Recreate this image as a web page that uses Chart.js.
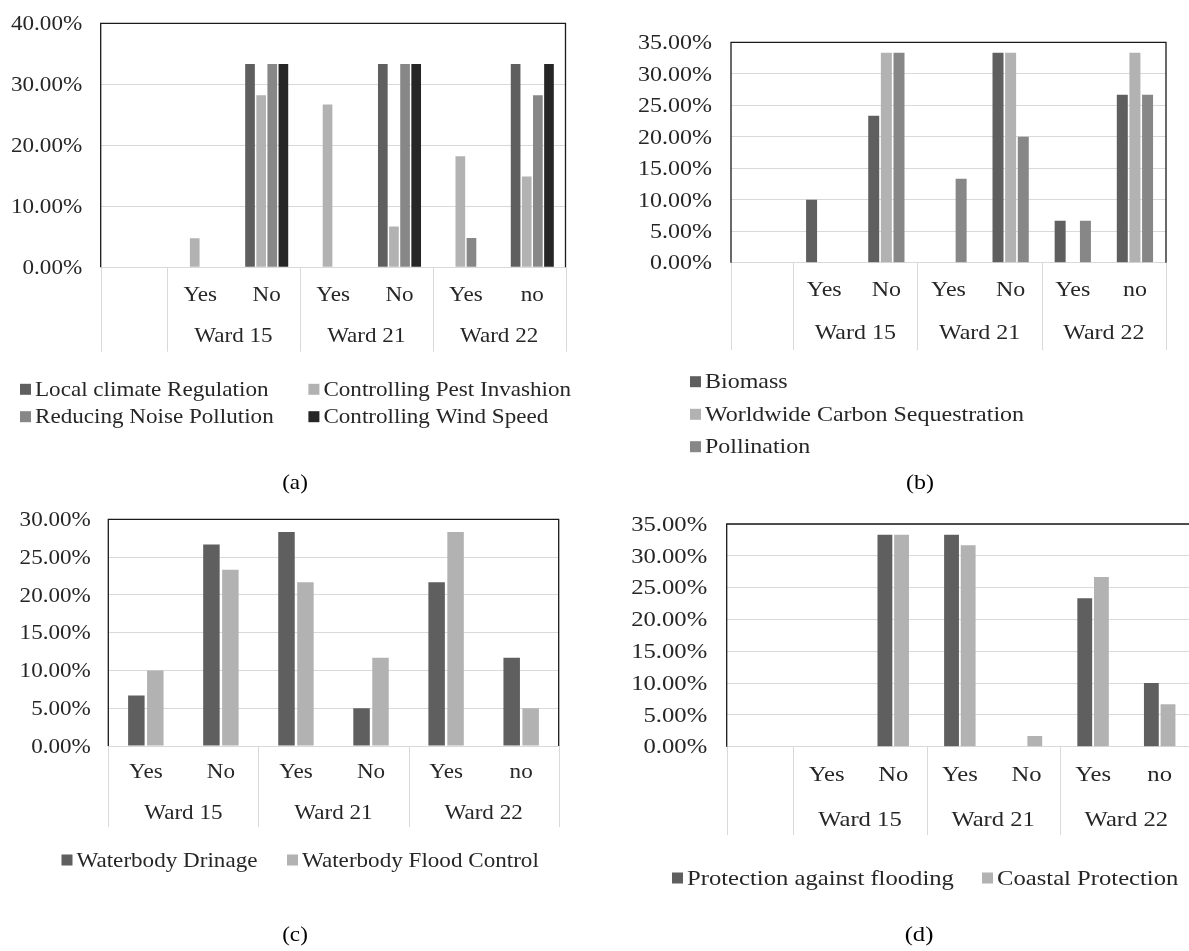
<!DOCTYPE html>
<html>
<head>
<meta charset="utf-8">
<script src="https://cdn.jsdelivr.net/npm/chart.js@4.4.1/dist/chart.umd.min.js"></script>
<style>
  html, body { margin: 0; padding: 0; background: #fff; width: 1189px; height: 951px; overflow: hidden; }
  body { position: relative; }
  canvas { position: absolute; }
</style>
</head>
<body>
<canvas id="panelA"></canvas>
<canvas id="panelB"></canvas>
<canvas id="panelC"></canvas>
<canvas id="panelD"></canvas>
<script>
// ---- data (percent of respondents) ----
const answersWithBlank = ['', 'Yes', 'No', 'Yes', 'No', 'Yes', 'no'];
const answers = ['Yes', 'No', 'Yes', 'No', 'Yes', 'no'];
const wards = ['Ward 15', 'Ward 21', 'Ward 22'];

// (a) regulating services
const climateRegulation = [null, 0, 33.33, 0, 33.33, 0, 33.33];
const pestControl       = [null, 4.76, 28.2, 26.67, 6.67, 18.2, 14.9];
const noiseReduction    = [null, 0, 33.33, 0, 33.33, 4.8, 28.2];
const windControl       = [null, 0, 33.33, 0, 33.33, 0, 33.33];

// (b) supporting services
const biomass      = [null, 10, 23.33, 0, 33.33, 6.67, 26.67];
const carbonSeq    = [null, 0, 33.33, 0, 33.33, 0, 33.33];
const pollination  = [null, 0, 33.33, 13.33, 20, 6.67, 26.67];

// (c) waterbody services
const drainage     = [6.67, 26.67, 28.33, 5, 21.67, 11.67];
const floodControl = [10, 23.33, 21.67, 11.67, 28.33, 5];

// (d) protection services
const floodProtection   = [null, 0, 33.33, 33.33, 0, 23.33, 10];
const coastalProtection = [null, 0, 33.33, 31.67, 1.67, 26.67, 6.67];

// ---- styling ----
const FONT = '"Liberation Serif", "Times New Roman", serif';
const FS = 22;
const TEXT = '#262626';
const DARK = '#5f5f5f', LIGHT = '#b2b2b2', MID = '#878787', BLACK = '#262626';
const GRID = '#d9d9d9';

// text drawn slightly widened (sx) to follow the figure's proportions
function wideText(ctx, str, x, y, align, sx) {
  const w = ctx.measureText(str).width * sx;
  const left = align === 'center' ? x - w / 2 : align === 'right' ? x - w : x;
  ctx.save();
  ctx.translate(left, y);
  ctx.scale(sx, 1);
  ctx.textAlign = 'left';
  ctx.fillText(str, 0, 0);
  ctx.restore();
}

// Value labels, two-level category axis, plot frame, legend and caption
const wardAxis = {
  id: 'wardAxis',
  afterDraw(chart, args, o) {
    const ctx = chart.ctx, a = chart.chartArea, xs = chart.scales.x, ys = chart.scales.y;
    const ox = o.left, oy = o.top, sx = o.sx;
    ctx.save();

    // separators of the category axis
    const lead = o.lead;
    const edges = [-0.5];
    if (lead) edges.push(lead - 0.5);
    for (let g = 0; g < wards.length; g++) edges.push(lead + 2 * g + 1.5);
    ctx.strokeStyle = GRID;
    ctx.lineWidth = 1;
    ctx.beginPath();
    edges.forEach(e => {
      const px = Math.round(xs.getPixelForValue(e)) + 0.5;
      ctx.moveTo(px, a.bottom);
      ctx.lineTo(px, o.sepBottom - oy);
    });
    ctx.stroke();

    // frame: left, top, right
    ctx.strokeStyle = '#1a1a1a';
    ctx.lineWidth = 1.3;
    ctx.beginPath();
    ctx.moveTo(a.left, a.bottom);
    ctx.lineTo(a.left, a.top);
    ctx.lineTo(a.right, a.top);
    ctx.lineTo(a.right, a.bottom);
    ctx.stroke();

    ctx.fillStyle = TEXT;
    ctx.font = FS + 'px ' + FONT;
    ctx.textBaseline = 'middle';

    // value axis labels
    ys.ticks.forEach(t => {
      wideText(ctx, Number(t.value).toFixed(2) + '%', a.left - o.tickGap, ys.getPixelForValue(t.value) + 1, 'right', sx);
    });

    // answer row and ward row
    chart.data.labels.forEach((lab, i) => {
      if (lab) wideText(ctx, lab, xs.getPixelForValue(i), o.catRow - oy, 'center', sx);
    });
    wards.forEach((w, g) => {
      wideText(ctx, w, xs.getPixelForValue(lead + 2 * g + 0.5), o.wardRow - oy, 'center', sx);
    });

    // legend
    chart.data.datasets.forEach((ds, i) => {
      const [tx, ty] = o.legend[i];
      ctx.fillStyle = ds.backgroundColor;
      ctx.fillRect(tx - ox - 15, ty - oy - 5.5, 11, 11);
      ctx.fillStyle = TEXT;
      wideText(ctx, ds.label, tx - ox, ty - oy + 1, 'left', sx);
    });

    // caption
    ctx.fillStyle = '#000';
    wideText(ctx, o.caption[0], o.caption[1] - ox, o.caption[2] - oy, 'center', sx);
    ctx.restore();
  }
};

function panel(id, p) {
  const cv = document.getElementById(id);
  cv.width = p.canvas.w; cv.height = p.canvas.h;
  cv.style.left = p.canvas.left + 'px';
  cv.style.top = p.canvas.top + 'px';
  cv.style.width = p.canvas.w + 'px';
  cv.style.height = p.canvas.h + 'px';
  const yWidth = p.plot.left - p.canvas.left;
  return new Chart(cv, {
    type: 'bar',
    data: {
      labels: p.labels,
      datasets: p.series.map(s => ({
        label: s.label, data: s.data, backgroundColor: s.color,
        borderWidth: 0,
        categoryPercentage: p.catPct, barPercentage: p.barPct
      }))
    },
    options: {
      responsive: false,
      animation: false,
      devicePixelRatio: 1,
      layout: {
        padding: {
          left: 0,
          top: p.plot.top - p.canvas.top,
          right: p.canvas.left + p.canvas.w - p.plot.right,
          bottom: p.canvas.top + p.canvas.h - p.plot.bottom
        }
      },
      plugins: {
        legend: { display: false },
        tooltip: { enabled: false },
        wardAxis: {
          left: p.canvas.left, top: p.canvas.top, lead: p.lead, sx: p.sx, tickGap: p.tickGap,
          catRow: p.rows.cat, wardRow: p.rows.ward, sepBottom: p.rows.sep,
          legend: p.legend, caption: p.caption
        }
      },
      scales: {
        x: {
          ticks: { display: false },
          grid: { display: false },
          border: { display: false },
          afterFit: s => { s.height = 0; }
        },
        y: {
          min: 0, max: p.max,
          ticks: { display: false, stepSize: p.step },
          grid: { color: GRID, lineWidth: 1, drawTicks: false },
          border: { display: false },
          afterFit: s => { s.width = yWidth; }
        }
      }
    },
    plugins: [wardAxis]
  });
}

panel('panelA', {
  canvas: { left: 0, top: 0, w: 595, h: 500 },
  plot: { left: 100.7, top: 23.3, right: 565.5, bottom: 267.3 },
  rows: { cat: 295.7, ward: 336.7, sep: 351.7 },
  labels: answersWithBlank, lead: 1, max: 40, step: 10, sx: 1.05, tickGap: 18.5,
  catPct: 0.67, barPct: 0.87,
  series: [
    { label: 'Local climate Regulation', data: climateRegulation, color: DARK },
    { label: 'Controlling Pest Invashion', data: pestControl, color: LIGHT },
    { label: 'Reducing Noise Pollution', data: noiseReduction, color: MID },
    { label: 'Controlling Wind Speed', data: windControl, color: BLACK }
  ],
  legend: [[35, 389.3], [323.4, 389.3], [35, 416.7], [323.4, 416.7]],
  caption: ['(a)', 295, 483]
});

panel('panelB', {
  canvas: { left: 595, top: 0, w: 594, h: 500 },
  plot: { left: 731, top: 42.3, right: 1166, bottom: 262.7 },
  rows: { cat: 290.7, ward: 333.3, sep: 350 },
  labels: answersWithBlank, lead: 1, max: 35, step: 5, sx: 1.09, tickGap: 19,
  catPct: 0.61, barPct: 0.87,
  series: [
    { label: 'Biomass', data: biomass, color: DARK },
    { label: 'Worldwide Carbon Sequestration', data: carbonSeq, color: LIGHT },
    { label: 'Pollination', data: pollination, color: MID }
  ],
  legend: [[705, 381.7], [705, 414.3], [705, 446.7]],
  caption: ['(b)', 920, 483]
});

panel('panelC', {
  canvas: { left: 0, top: 500, w: 595, h: 451 },
  plot: { left: 108.3, top: 519.3, right: 558.7, bottom: 746 },
  rows: { cat: 772, ward: 813, sep: 827 },
  labels: answers, lead: 0, max: 30, step: 5, sx: 1.05, tickGap: 17.5,
  catPct: 0.505, barPct: 0.87,
  series: [
    { label: 'Waterbody Drinage', data: drainage, color: DARK },
    { label: 'Waterbody Flood Control', data: floodControl, color: LIGHT }
  ],
  legend: [[76.5, 860], [302, 860]],
  caption: ['(c)', 295, 935]
});

panel('panelD', {
  canvas: { left: 595, top: 500, w: 605, h: 451 },
  plot: { left: 726.7, top: 524, right: 1193, bottom: 746.7 },
  rows: { cat: 775, ward: 820, sep: 835 },
  labels: answersWithBlank, lead: 1, max: 35, step: 5, sx: 1.12, tickGap: 19.5,
  catPct: 0.5, barPct: 0.89,
  series: [
    { label: 'Protection against flooding', data: floodProtection, color: DARK },
    { label: 'Coastal Protection', data: coastalProtection, color: LIGHT }
  ],
  legend: [[687, 878], [997, 878]],
  caption: ['(d)', 919, 935]
});
</script>
</body>
</html>
